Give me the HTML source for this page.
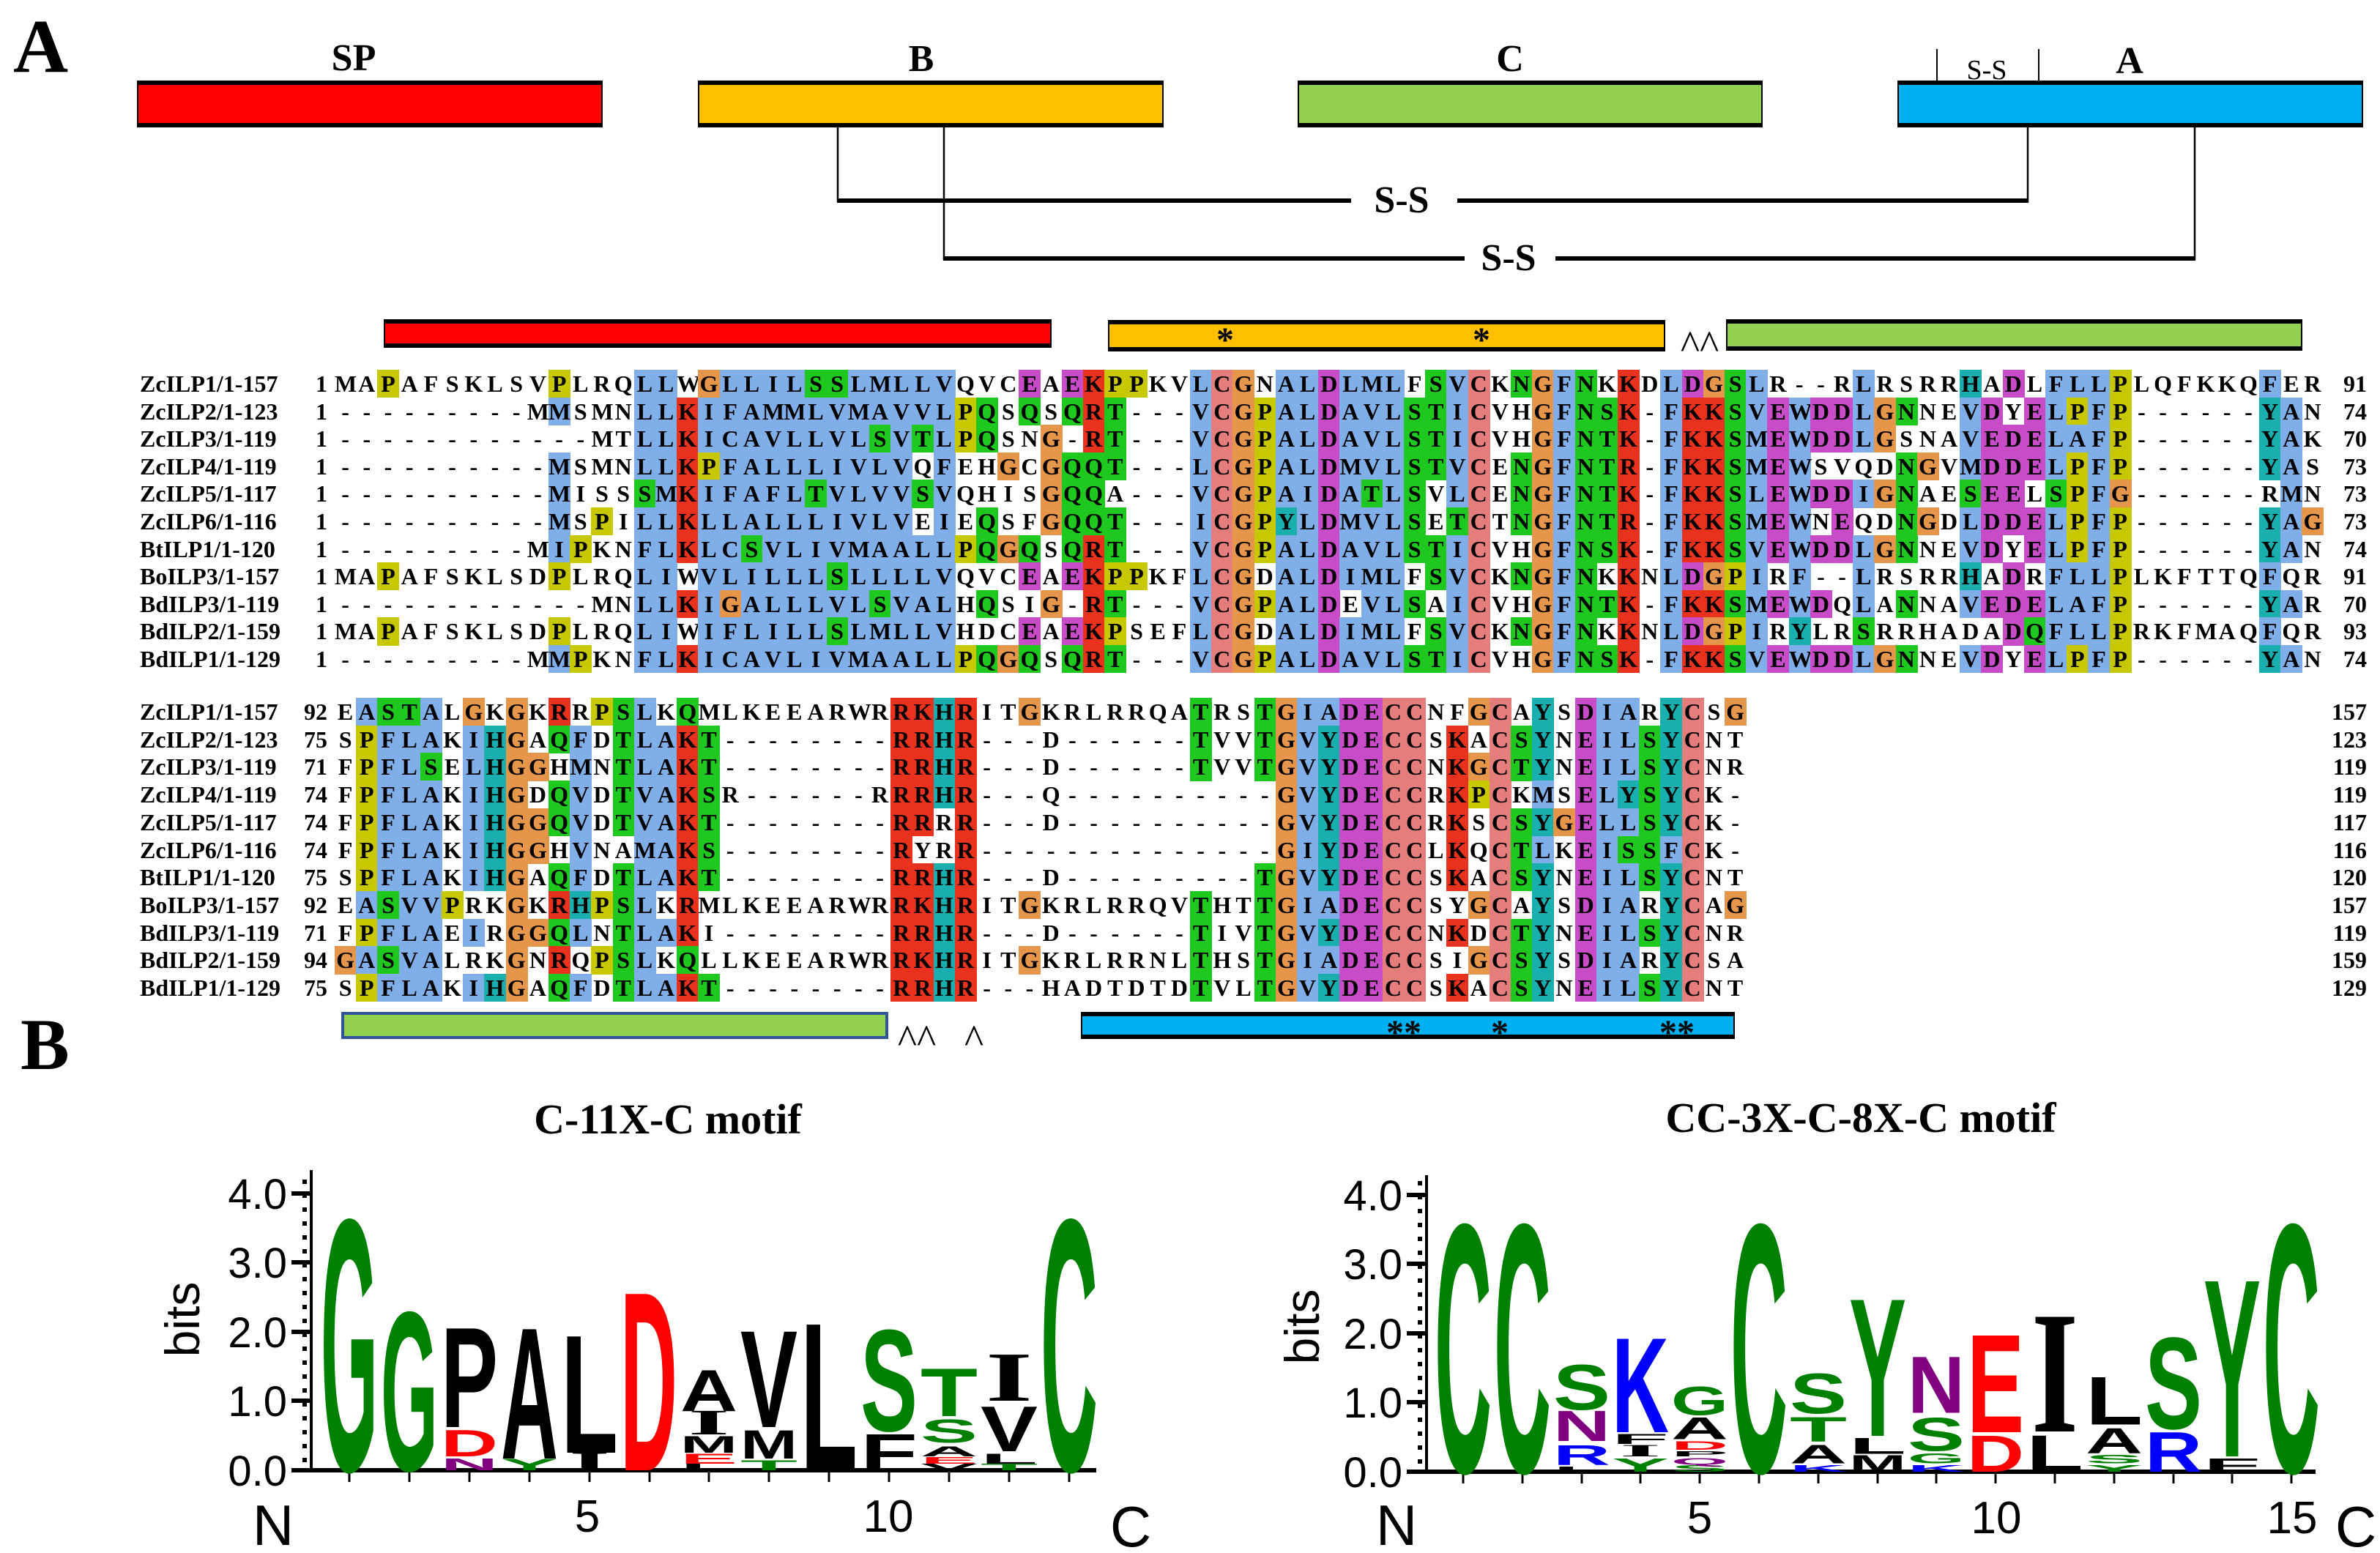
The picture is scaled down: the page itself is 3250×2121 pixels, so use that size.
<!DOCTYPE html>
<html><head><meta charset="utf-8">
<style>
html,body{margin:0;padding:0;background:#fff;}
#pg{position:relative;width:3250px;height:2121px;overflow:hidden;background:#fff;}
.c{position:absolute;height:38px;}
.t{position:absolute;font-family:"Liberation Serif",serif;font-weight:bold;font-size:32px;line-height:38px;color:#000;white-space:nowrap;}
.ch{text-align:center;width:29.2px;}
svg{position:absolute;left:0;top:0;}
.si{font-family:"Liberation Serif",serif;}
</style></head><body>
<div id="pg">
<svg width="3250" height="2121" viewBox="0 0 3250 2121" font-family="Liberation Serif, serif">
 <text x="18" y="98" font-size="104" font-weight="bold">A</text>
 <text x="28" y="1460" font-size="100" font-weight="bold">B</text>
 <text x="483" y="96" font-size="52" font-weight="bold" text-anchor="middle">SP</text>
 <text x="1258" y="97" font-size="52" font-weight="bold" text-anchor="middle">B</text>
 <text x="2062" y="97" font-size="52" font-weight="bold" text-anchor="middle">C</text>
 <text x="2908" y="100" font-size="52" font-weight="bold" text-anchor="middle">A</text>
 <rect x="188" y="111" width="634" height="62" fill="#ff0000" stroke="#000" stroke-width="2"/>
 <rect x="954" y="111" width="634" height="62" fill="#ffc000" stroke="#000" stroke-width="2"/>
 <rect x="1773" y="111" width="633" height="62" fill="#92d050" stroke="#000" stroke-width="2"/>
 <rect x="2592" y="111" width="634" height="62" fill="#00b0f0" stroke="#000" stroke-width="2"/>
 <g fill="#000">
  <rect x="187" y="110" width="636" height="6"/><rect x="187" y="168" width="636" height="6"/>
  <rect x="953" y="110" width="636" height="6"/><rect x="953" y="168" width="636" height="6"/>
  <rect x="1772" y="110" width="635" height="6"/><rect x="1772" y="168" width="635" height="6"/>
  <rect x="2591" y="110" width="636" height="6"/><rect x="2591" y="168" width="636" height="6"/>
 </g>
 <line x1="2645" y1="67" x2="2645" y2="110" stroke="#000" stroke-width="2"/>
 <line x1="2784" y1="67" x2="2784" y2="110" stroke="#000" stroke-width="2"/>
 <text x="2713" y="108" font-size="38" text-anchor="middle">S-S</text>
 <g stroke="#000" fill="none">
  <line x1="1144" y1="174" x2="1144" y2="276" stroke-width="2.5"/>
  <line x1="1143" y1="274" x2="1845" y2="274" stroke-width="6"/>
  <line x1="1990" y1="274" x2="2770" y2="274" stroke-width="6"/>
  <line x1="2769" y1="174" x2="2769" y2="276" stroke-width="2.5"/>
  <line x1="1289" y1="174" x2="1289" y2="355" stroke-width="2.5"/>
  <line x1="1288" y1="353" x2="2000" y2="353" stroke-width="6"/>
  <line x1="2124" y1="353" x2="2998" y2="353" stroke-width="6"/>
  <line x1="2997" y1="174" x2="2997" y2="355" stroke-width="2.5"/>
 </g>
 <text x="1914" y="290" font-size="52" font-weight="bold" text-anchor="middle">S-S</text>
 <text x="2060" y="369" font-size="52" font-weight="bold" text-anchor="middle">S-S</text>
 <rect x="525" y="437" width="910" height="37" fill="#ff0000" stroke="#000" stroke-width="2"/>
 <rect x="524" y="436" width="912" height="6"/><rect x="524" y="469" width="912" height="6"/>
 <rect x="1514" y="438" width="759" height="41" fill="#ffc000" stroke="#000" stroke-width="2"/>
 <rect x="1513" y="437" width="761" height="6"/><rect x="1513" y="474" width="761" height="6"/>
 <rect x="2358" y="437" width="785" height="41" fill="#92d050" stroke="#000" stroke-width="2"/>
 <rect x="2357" y="436" width="787" height="6"/><rect x="2357" y="473" width="787" height="6"/>
 <text x="1673" y="480" font-size="48" font-weight="bold" text-anchor="middle">*</text>
 <text x="2023" y="480" font-size="48" font-weight="bold" text-anchor="middle">*</text>
 <text x="2321" y="490" font-size="56" text-anchor="middle">^^</text>
 <rect x="468" y="1384" width="743" height="33" fill="#92d050" stroke="#2f5597" stroke-width="4"/>
 <rect x="1477" y="1383" width="891" height="35" fill="#00b0f0" stroke="#000" stroke-width="2"/>
 <rect x="1476" y="1382" width="893" height="6"/><rect x="1476" y="1413" width="893" height="6"/>
 <text x="1252" y="1438" font-size="56" text-anchor="middle">^^</text>
 <text x="1330" y="1438" font-size="56" text-anchor="middle">^</text>
 <text x="1917" y="1426" font-size="48" font-weight="bold" text-anchor="middle">**</text>
 <text x="2048" y="1426" font-size="48" font-weight="bold" text-anchor="middle">*</text>
 <text x="2290" y="1426" font-size="48" font-weight="bold" text-anchor="middle">**</text>

 <text x="912" y="1548" font-size="58" font-weight="bold" text-anchor="middle">C-11X-C motif</text>
 <text x="2541" y="1546" font-size="58" font-weight="bold" text-anchor="middle">CC-3X-C-8X-C motif</text>

 <g font-family="Liberation Sans, sans-serif">
 <line x1="425" y1="1598" x2="425" y2="2010" stroke="#000" stroke-width="4"/>
 <line x1="423" y1="2008" x2="1497" y2="2008" stroke="#000" stroke-width="6"/>
 <g stroke="#000" stroke-width="6">
  <line x1="398" y1="1630" x2="425" y2="1630"/><line x1="398" y1="1724" x2="425" y2="1724"/>
  <line x1="398" y1="1819" x2="425" y2="1819"/><line x1="398" y1="1913" x2="425" y2="1913"/>
  <line x1="398" y1="2008" x2="425" y2="2008"/>
 </g>
 <g stroke="#000" stroke-width="6" stroke-dasharray="6 13"><line x1="416" y1="1611" x2="416" y2="2008"/></g>
 <g font-size="58" text-anchor="end">
  <text x="392" y="1651">4.0</text><text x="392" y="1745">3.0</text><text x="392" y="1840">2.0</text>
  <text x="392" y="1934">1.0</text><text x="392" y="2029">0.0</text>
 </g>
 <text transform="translate(272,1802) rotate(-90)" font-size="66" text-anchor="middle">bits</text>
 <g stroke="#000" stroke-width="3">
  <line x1="477" y1="2008" x2="477" y2="2024"/><line x1="559" y1="2008" x2="559" y2="2024"/><line x1="641" y1="2008" x2="641" y2="2024"/>
  <line x1="723" y1="2008" x2="723" y2="2024"/><line x1="805" y1="2008" x2="805" y2="2024"/><line x1="887" y1="2008" x2="887" y2="2024"/>
  <line x1="968" y1="2008" x2="968" y2="2024"/><line x1="1050" y1="2008" x2="1050" y2="2024"/><line x1="1132" y1="2008" x2="1132" y2="2024"/>
  <line x1="1214" y1="2008" x2="1214" y2="2024"/><line x1="1296" y1="2008" x2="1296" y2="2024"/><line x1="1378" y1="2008" x2="1378" y2="2024"/>
  <line x1="1460" y1="2008" x2="1460" y2="2024"/>
 </g>
 <text x="373" y="2110" font-size="78" text-anchor="middle">N</text>
 <text x="802" y="2092" font-size="62" text-anchor="middle">5</text>
 <text x="1213" y="2092" font-size="62" text-anchor="middle">10</text>
 <text x="1544" y="2112" font-size="78" text-anchor="middle">C</text>

 <line x1="1948" y1="1605" x2="1948" y2="2012" stroke="#000" stroke-width="4"/>
 <line x1="1946" y1="2010" x2="3162" y2="2010" stroke="#000" stroke-width="6"/>
 <g stroke="#000" stroke-width="6">
  <line x1="1921" y1="1632" x2="1948" y2="1632"/><line x1="1921" y1="1726" x2="1948" y2="1726"/>
  <line x1="1921" y1="1821" x2="1948" y2="1821"/><line x1="1921" y1="1915" x2="1948" y2="1915"/>
  <line x1="1921" y1="2010" x2="1948" y2="2010"/>
 </g>
 <g stroke="#000" stroke-width="6" stroke-dasharray="6 13"><line x1="1939" y1="1613" x2="1939" y2="2010"/></g>
 <g font-size="58" text-anchor="end">
  <text x="1915" y="1653">4.0</text><text x="1915" y="1747">3.0</text><text x="1915" y="1842">2.0</text>
  <text x="1915" y="1936">1.0</text><text x="1915" y="2031">0.0</text>
 </g>
 <text transform="translate(1801,1812) rotate(-90)" font-size="66" text-anchor="middle">bits</text>
 <g stroke="#000" stroke-width="3">
  <line x1="1998" y1="2010" x2="1998" y2="2026"/><line x1="2079" y1="2010" x2="2079" y2="2026"/><line x1="2160" y1="2010" x2="2160" y2="2026"/>
  <line x1="2240" y1="2010" x2="2240" y2="2026"/><line x1="2321" y1="2010" x2="2321" y2="2026"/><line x1="2402" y1="2010" x2="2402" y2="2026"/>
  <line x1="2483" y1="2010" x2="2483" y2="2026"/><line x1="2564" y1="2010" x2="2564" y2="2026"/><line x1="2644" y1="2010" x2="2644" y2="2026"/>
  <line x1="2725" y1="2010" x2="2725" y2="2026"/><line x1="2806" y1="2010" x2="2806" y2="2026"/><line x1="2887" y1="2010" x2="2887" y2="2026"/>
  <line x1="2968" y1="2010" x2="2968" y2="2026"/><line x1="3048" y1="2010" x2="3048" y2="2026"/><line x1="3129" y1="2010" x2="3129" y2="2026"/>
 </g>
 <text x="1907" y="2110" font-size="78" text-anchor="middle">N</text>
 <text x="2321" y="2094" font-size="62" text-anchor="middle">5</text>
 <text x="2726" y="2094" font-size="62" text-anchor="middle">10</text>
 <text x="3130" y="2094" font-size="62" text-anchor="middle">15</text>
 <text x="3217" y="2112" font-size="78" text-anchor="middle">C</text>
 </g>

 <g font-family="Liberation Sans, sans-serif" font-weight="bold" font-size="100">
  <text textLength="78" lengthAdjust="spacingAndGlyphs" fill="#008000" transform="translate(438,2008) scale(1,4.926)">G</text>
  <text textLength="78" lengthAdjust="spacingAndGlyphs" fill="#008000" transform="translate(520,2008) scale(1,3.111)">G</text>
  <text textLength="78" lengthAdjust="spacingAndGlyphs" fill="#800080" transform="translate(602,2008) scale(1,0.233)">N</text>
  <text textLength="78" lengthAdjust="spacingAndGlyphs" fill="#ff0000" transform="translate(602,1989) scale(1,0.519)">D</text>
  <text textLength="78" lengthAdjust="spacingAndGlyphs" fill="#000" transform="translate(602,1949) scale(1,1.957)">P</text>
  <text textLength="78" lengthAdjust="spacingAndGlyphs" fill="#008000" transform="translate(684,2008) scale(1,0.22)">Y</text>
  <text textLength="78" lengthAdjust="spacingAndGlyphs" fill="#000" transform="translate(684,1992) scale(1,2.567)">A</text>
  <text class="si" textLength="56" lengthAdjust="spacingAndGlyphs" fill="#000" transform="translate(777,2008) scale(1,0.37)">I</text>
  <text textLength="78" lengthAdjust="spacingAndGlyphs" fill="#000" transform="translate(766,1984) scale(1,2.307)">L</text>
  <text textLength="78" lengthAdjust="spacingAndGlyphs" fill="#ff0000" transform="translate(847,2008) scale(1,3.5)">D</text>
  <text textLength="78" lengthAdjust="spacingAndGlyphs" fill="#000" transform="translate(929,2008) scale(1,0.13)">L</text>
  <text textLength="78" lengthAdjust="spacingAndGlyphs" fill="#ff0000" transform="translate(929,1999) scale(1,0.194)">E</text>
  <text textLength="78" lengthAdjust="spacingAndGlyphs" fill="#000" transform="translate(929,1984) scale(1,0.324)">M</text>
  <text class="si" textLength="56" lengthAdjust="spacingAndGlyphs" fill="#000" transform="translate(940,1959) scale(1,0.49)">I</text>
  <text textLength="78" lengthAdjust="spacingAndGlyphs" fill="#000" transform="translate(929,1927) scale(1,0.804)">A</text>
  <text textLength="78" lengthAdjust="spacingAndGlyphs" fill="#008000" transform="translate(1011,2008) scale(1,0.194)">T</text>
  <text textLength="78" lengthAdjust="spacingAndGlyphs" fill="#000" transform="translate(1011,1992) scale(1,0.557)">M</text>
  <text textLength="78" lengthAdjust="spacingAndGlyphs" fill="#000" transform="translate(1011,1949) scale(1,1.893)">V</text>
  <text textLength="78" lengthAdjust="spacingAndGlyphs" fill="#000" transform="translate(1093,2008) scale(1,2.891)">L</text>
  <text textLength="78" lengthAdjust="spacingAndGlyphs" fill="#000" transform="translate(1175,2008) scale(1,0.713)">F</text>
  <text textLength="78" lengthAdjust="spacingAndGlyphs" fill="#008000" transform="translate(1175,1954) scale(1,1.983)">S</text>
  <text textLength="78" lengthAdjust="spacingAndGlyphs" fill="#000" transform="translate(1257,2008) scale(1,0.13)">V</text>
  <text textLength="78" lengthAdjust="spacingAndGlyphs" fill="#ff0000" transform="translate(1257,1999) scale(1,0.13)">E</text>
  <text textLength="78" lengthAdjust="spacingAndGlyphs" fill="#000" transform="translate(1257,1989) scale(1,0.194)">A</text>
  <text textLength="78" lengthAdjust="spacingAndGlyphs" fill="#008000" transform="translate(1257,1970) scale(1,0.454)">S</text>
  <text textLength="78" lengthAdjust="spacingAndGlyphs" fill="#008000" transform="translate(1257,1934) scale(1,0.933)">T</text>
  <text textLength="78" lengthAdjust="spacingAndGlyphs" fill="#008000" transform="translate(1339,2008) scale(1,0.13)">T</text>
  <text textLength="78" lengthAdjust="spacingAndGlyphs" fill="#000" transform="translate(1339,1999) scale(1,0.194)">L</text>
  <text textLength="78" lengthAdjust="spacingAndGlyphs" fill="#000" transform="translate(1339,1982) scale(1,0.881)">V</text>
  <text class="si" textLength="64" lengthAdjust="spacingAndGlyphs" fill="#000" transform="translate(1346,1913) scale(1,0.96)">I</text>
  <text textLength="78" lengthAdjust="spacingAndGlyphs" fill="#008000" transform="translate(1421,2008) scale(1,4.926)">C</text>
 </g>
 <g font-family="Liberation Sans, sans-serif" font-weight="bold" font-size="100">
  <text textLength="78" lengthAdjust="spacingAndGlyphs" fill="#008000" transform="translate(1959,2010) scale(1,4.861)">C</text>
  <text textLength="78" lengthAdjust="spacingAndGlyphs" fill="#008000" transform="translate(2040,2010) scale(1,4.861)">C</text>
  <text textLength="78" lengthAdjust="spacingAndGlyphs" fill="#000" transform="translate(2121,2010) scale(1,0.104)">L</text>
  <text textLength="78" lengthAdjust="spacingAndGlyphs" fill="#0000ff" transform="translate(2121,2000.5) scale(1,0.389)">R</text>
  <text textLength="78" lengthAdjust="spacingAndGlyphs" fill="#800080" transform="translate(2121,1968) scale(1,0.596)">N</text>
  <text textLength="78" lengthAdjust="spacingAndGlyphs" fill="#008000" transform="translate(2121,1925) scale(1,0.881)">S</text>
  <text textLength="78" lengthAdjust="spacingAndGlyphs" fill="#008000" transform="translate(2201,2010) scale(1,0.259)">Y</text>
  <text class="si" textLength="56" lengthAdjust="spacingAndGlyphs" fill="#000" transform="translate(2212,1989) scale(1,0.235)">I</text>
  <text textLength="78" lengthAdjust="spacingAndGlyphs" fill="#000" transform="translate(2201,1972) scale(1,0.194)">F</text>
  <text textLength="78" lengthAdjust="spacingAndGlyphs" fill="#0000ff" transform="translate(2201,1956) scale(1,1.854)">K</text>
  <text textLength="78" lengthAdjust="spacingAndGlyphs" fill="#008000" transform="translate(2282,2010) scale(1,0.13)">S</text>
  <text textLength="78" lengthAdjust="spacingAndGlyphs" fill="#800080" transform="translate(2282,2000.5) scale(1,0.13)">Q</text>
  <text textLength="78" lengthAdjust="spacingAndGlyphs" fill="#000" transform="translate(2282,1989) scale(1,0.104)">P</text>
  <text textLength="78" lengthAdjust="spacingAndGlyphs" fill="#ff0000" transform="translate(2282,1980) scale(1,0.169)">D</text>
  <text textLength="78" lengthAdjust="spacingAndGlyphs" fill="#000" transform="translate(2282,1965.6) scale(1,0.428)">A</text>
  <text textLength="78" lengthAdjust="spacingAndGlyphs" fill="#008000" transform="translate(2282,1932.5) scale(1,0.557)">G</text>
  <text textLength="78" lengthAdjust="spacingAndGlyphs" fill="#008000" transform="translate(2363,2010) scale(1,4.861)">C</text>
  <text textLength="78" lengthAdjust="spacingAndGlyphs" fill="#0000ff" transform="translate(2444,2010) scale(1,0.13)">K</text>
  <text textLength="78" lengthAdjust="spacingAndGlyphs" fill="#000" transform="translate(2444,1998.7) scale(1,0.363)">A</text>
  <text textLength="78" lengthAdjust="spacingAndGlyphs" fill="#008000" transform="translate(2444,1969) scale(1,0.48)">T</text>
  <text textLength="78" lengthAdjust="spacingAndGlyphs" fill="#008000" transform="translate(2444,1930) scale(1,0.778)">S</text>
  <text textLength="78" lengthAdjust="spacingAndGlyphs" fill="#000" transform="translate(2525,2010) scale(1,0.324)">M</text>
  <text textLength="78" lengthAdjust="spacingAndGlyphs" fill="#000" transform="translate(2525,1985.4) scale(1,0.311)">L</text>
  <text textLength="78" lengthAdjust="spacingAndGlyphs" fill="#008000" transform="translate(2525,1961) scale(1,2.696)">Y</text>
  <text textLength="78" lengthAdjust="spacingAndGlyphs" fill="#0000ff" transform="translate(2605,2010) scale(1,0.13)">K</text>
  <text textLength="78" lengthAdjust="spacingAndGlyphs" fill="#008000" transform="translate(2605,1998.7) scale(1,0.194)">G</text>
  <text textLength="78" lengthAdjust="spacingAndGlyphs" fill="#008000" transform="translate(2605,1981.6) scale(1,0.648)">S</text>
  <text textLength="78" lengthAdjust="spacingAndGlyphs" fill="#800080" transform="translate(2605,1929.7) scale(1,1.102)">N</text>
  <text textLength="78" lengthAdjust="spacingAndGlyphs" fill="#ff0000" transform="translate(2686,2010) scale(1,0.713)">D</text>
  <text textLength="78" lengthAdjust="spacingAndGlyphs" fill="#ff0000" transform="translate(2686,1956) scale(1,1.919)">E</text>
  <text textLength="78" lengthAdjust="spacingAndGlyphs" fill="#000" transform="translate(2767,2010) scale(1,0.713)">L</text>
  <text class="si" textLength="64" lengthAdjust="spacingAndGlyphs" fill="#000" transform="translate(2774,1955) scale(1,2.39)">I</text>
  <text textLength="78" lengthAdjust="spacingAndGlyphs" fill="#008000" transform="translate(2848,2010) scale(1,0.13)">Y</text>
  <text textLength="78" lengthAdjust="spacingAndGlyphs" fill="#008000" transform="translate(2848,1998.7) scale(1,0.169)">S</text>
  <text textLength="78" lengthAdjust="spacingAndGlyphs" fill="#000" transform="translate(2848,1984.5) scale(1,0.493)">A</text>
  <text textLength="78" lengthAdjust="spacingAndGlyphs" fill="#000" transform="translate(2848,1945.7) scale(1,0.933)">L</text>
  <text textLength="78" lengthAdjust="spacingAndGlyphs" fill="#0000ff" transform="translate(2929,2010) scale(1,0.778)">R</text>
  <text textLength="78" lengthAdjust="spacingAndGlyphs" fill="#008000" transform="translate(2929,1951) scale(1,1.789)">S</text>
  <text textLength="78" lengthAdjust="spacingAndGlyphs" fill="#000" transform="translate(3009,2010) scale(1,0.259)">F</text>
  <text textLength="78" lengthAdjust="spacingAndGlyphs" fill="#008000" transform="translate(3009,1989) scale(1,3.474)">Y</text>
  <text textLength="78" lengthAdjust="spacingAndGlyphs" fill="#008000" transform="translate(3090,2010) scale(1,4.861)">C</text>
 </g>
</svg>
<div id="aln"></div>
</div>
<script>
const B1=[
["ZcILP1/1-157",1,"MAPAFSKLSVPLRQLLWGLLILSSLMLLVQVCEAEKPPKVLCGNALDLMLFSVCKNGFNKKDLDGSLR--RLRSRRHADLFLLPLQFKKQFER",91],
["ZcILP2/1-123",1,"---------MMSMNLLKIFAMMLVMAVVLPQSQSQRT---VCGPALDAVLSTICVHGFNSK-FKKSVEWDDLGNNEVDYELPFP------YAN",74],
["ZcILP3/1-119",1,"------------MTLLKICAVLLVLSVTLPQSNG-RT---VCGPALDAVLSTICVHGFNTK-FKKSMEWDDLGSNAVEDELAFP------YAK",70],
["ZcILP4/1-119",1,"----------MSMNLLKPFALLLIVLVQFEHGCGQQT---LCGPALDMVLSTVCENGFNTR-FKKSMEWSVQDNGVMDDELPFP------YAS",73],
["ZcILP5/1-117",1,"----------MISSSMKIFAFLTVLVVSVQHISGQQA---VCGPAIDATLSVLCENGFNTK-FKKSLEWDDIGNAESEELSPFG------RMN",73],
["ZcILP6/1-116",1,"----------MSPILLKLLALLLIVLVEIEQSFGQQT---ICGPYLDMVLSETCTNGFNTR-FKKSMEWNEQDNGDLDDELPFP------YAG",73],
["BtILP1/1-120",1,"---------MIPKNFLKLCSVLIVMAALLPQGQSQRT---VCGPALDAVLSTICVHGFNSK-FKKSVEWDDLGNNEVDYELPFP------YAN",74],
["BoILP3/1-157",1,"MAPAFSKLSDPLRQLIWVLILLLSLLLLVQVCEAEKPPKFLCGDALDIMLFSVCKNGFNKKNLDGPIRF--LRSRRHADRFLLPLKFTTQFQR",91],
["BdILP3/1-119",1,"------------MNLLKIGALLLVLSVALHQSIG-RT---VCGPALDEVLSAICVHGFNTK-FKKSMEWDQLANNAVEDELAFP------YAR",70],
["BdILP2/1-159",1,"MAPAFSKLSDPLRQLIWIFLILLSLMLLVHDCEAEKPSEFLCGDALDIMLFSVCKNGFNKKNLDGPIRYLRSRRHADADQFLLPRKFMAQFQR",93],
["BdILP1/1-129",1,"---------MMPKNFLKICAVLIVMAALLPQGQSQRT---VCGPALDAVLSTICVHGFNSK-FKKSVEWDDLGNNEVDYELPFP------YAN",74]];
const B2=[
["ZcILP1/1-157",92,"EASTALGKGKRRPSLKQMLKEEARWRRKHRITGKRLRRQATRSTGIADECCNFGCAYSDIARYCSG",157],
["ZcILP2/1-123",75,"SPFLAKIHGAQFDTLAKT--------RRHR---D------TVVTGVYDECCSKACSYNEILSYCNT",123],
["ZcILP3/1-119",71,"FPFLSELHGGHMNTLAKT--------RRHR---D------TVVTGVYDECCNKGCTYNEILSYCNR",119],
["ZcILP4/1-119",74,"FPFLAKIHGDQVDTVAKSR------RRRHR---Q----------GVYDECCRKPCKMSELYSYCK-",119],
["ZcILP5/1-117",74,"FPFLAKIHGGQVDTVAKT--------RRRR---D----------GVYDECCRKSCSYGELLSYCK-",117],
["ZcILP6/1-116",74,"FPFLAKIHGGHVNAMAKS--------RYRR--------------GIYDECCLKQCTLKEISSFCK-",116],
["BtILP1/1-120",75,"SPFLAKIHGAQFDTLAKT--------RRHR---D---------TGVYDECCSKACSYNEILSYCNT",120],
["BoILP3/1-157",92,"EASVVPRKGKRHPSLKRMLKEEARWRRKHRITGKRLRRQVTHTTGIADECCSYGCAYSDIARYCAG",157],
["BdILP3/1-119",71,"FPFLAEIRGGQLNTLAKI--------RRHR---D------TIVTGVYDECCNKDCTYNEILSYCNR",119],
["BdILP2/1-159",94,"GASVALRKGNRQPSLKQLLKEEARWRRKHRITGKRLRRNLTHSTGIADECCSIGCSYSDIARYCSA",159],
["BdILP1/1-129",75,"SPFLAKIHGAQFDTLAKT--------RRHR---HADTDTDTVLTGVYDECCSKACSYNEILSYCNT",129]];
const COL={b:'#80aee8',r:'#e8321e',g:'#1ec81e',m:'#c84bc8',o:'#e6964b',y:'#c8c800',c:'#19afaf',p:'#e67d7d'};
function colColors(col){
  const n=col.length;const cnt={};for(const ch of col){if(ch!=='-')cnt[ch]=(cnt[ch]||0)+1;}
  const f=s=>{let t=0;for(const ch of s)t+=(cnt[ch]||0);return t/n;};
  const hY=f("WLVIMAFCHPY"),hN=f("WLVIMAFCHP"),KR=f("KR"),QE=f("QE"),ED=f("ED"),TS=f("TS"),KRQ=f("KRQ");
  return col.map(ch=>{
    const self=(cnt[ch]||0)/n;
    switch(ch){
      case 'G':return 'o';case 'P':return 'y';
      case 'A':case 'I':case 'L':case 'M':case 'F':case 'W':case 'V':return hY>0.6?'b':'';
      case 'C':return f("C")>0.85?'p':(hY>0.6?'b':'');
      case 'K':case 'R':return (KR>0.6||f("K")>0.8||f("R")>0.8||KRQ>0.8)?'r':'';
      case 'E':return (KR>0.6||QE>0.5||ED>0.5)?'m':'';
      case 'D':return (KR>0.6||ED>0.5||f("N")>0.5)?'m':'';
      case 'N':return (self>0.5||f("D")>0.85)?'g':'';
      case 'Q':return (KR>0.6||QE>0.5||KRQ>0.8)?'g':'';
      case 'S':case 'T':return (hY>0.6||TS>0.5||self>0.85)?'g':'';
      case 'H':case 'Y':return (self>0.5||hN>0.6||hY>0.8)?'c':'';
    }
    return '';
  });
}
function render(rows,y0,pitch){
  let h='';const L=rows[0][2].length;const grid=rows.map(()=>[]);
  for(let c=0;c<L;c++){const col=rows.map(r=>r[2][c]);const cc=colColors(col);cc.forEach((v,i)=>grid[i][c]=v);}
  rows.forEach((r,i)=>{
    const top=(y0+i*pitch-19).toFixed(1);
    h+=`<div class="t" style="left:191px;top:${top}px">${r[0]}</div>`;
    h+=`<div class="t" style="left:330px;width:117px;text-align:right;top:${top}px">${r[1]}</div>`;
    h+=`<div class="t" style="left:3120px;width:112px;text-align:right;top:${top}px">${r[3]}</div>`;
    for(let c=0;c<L;c++){
      const x=457+c*29.2;const v=grid[i][c];
      if(v)h+=`<div class="c" style="left:${x.toFixed(1)}px;width:30px;top:${top}px;height:${(pitch+0.6).toFixed(1)}px;background:${COL[v]}"></div>`;
      h+=`<div class="t ch" style="left:${x.toFixed(1)}px;top:${top}px">${r[2][c]}</div>`;
    }
  });
  return h;
}
document.getElementById('aln').innerHTML=render(B1,524,37.6)+render(B2,972,37.7);
</script>
</body></html>
